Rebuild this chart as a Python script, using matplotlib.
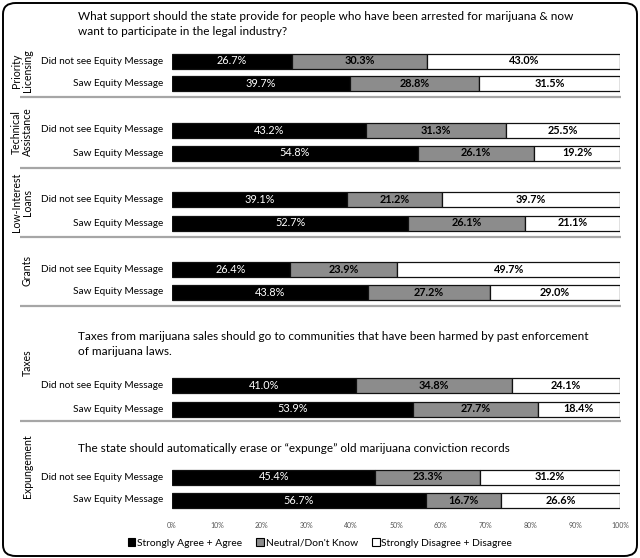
import matplotlib
matplotlib.use("Agg")
import matplotlib.pyplot as plt
from matplotlib.patches import Patch, FancyBboxPatch

plt.rcParams['font.family'] = ['Lato', 'DejaVu Sans']

# ---------------- data ----------------
groups = ["Priority\nLicensing", "Technical\nAssistance", "Low-Interest\nLoans",
          "Grants", "Taxes", "Expungement"]
row_labels = ["Did not see Equity Message", "Saw Equity Message"]
agree_no = [26.7, 43.2, 39.1, 26.4, 41.0, 45.4]
neutral_no = [30.3, 31.3, 21.2, 23.9, 34.8, 23.3]
disagree_no = [43.0, 25.5, 39.7, 49.7, 24.1, 31.2]
agree_saw = [39.7, 54.8, 52.7, 43.8, 53.9, 56.7]
neutral_saw = [28.8, 26.1, 26.1, 27.2, 27.7, 16.7]
disagree_saw = [31.5, 19.2, 21.1, 29.0, 18.4, 26.6]
series_names = ["Strongly Agree + Agree", "Neutral/Don't Know", "Strongly Disagree + Disagree"]
ticks = list(range(0, 101, 10))
titles = [
    ("What support should the state provide for people who have been arrested for marijuana & now\nwant to participate in the legal industry?", 24),
    ("Taxes from marijuana sales should go to communities that have been harmed by past enforcement\nof marijuana laws.", 344),
    ("The state should automatically erase or \u201cexpunge\u201d old marijuana conviction records", 448),
]

# ---------------- layout (pixel positions) ----------------
W, H = 640, 558
X0, X1 = 172, 620
AXB = 512
row_y = [(61, 83.5), (130, 153), (199.5, 223), (269.5, 292), (385.5, 409), (477, 500)]
group_y = [71, 132, 202, 270, 363, 466]
sep_y = [97, 167.5, 236.5, 305.5, 421]
BAR_H = 15
colors = ["black", "#8c8c8c", "white"]

fig = plt.figure(figsize=(W / 100, H / 100), dpi=100)
ax = fig.add_axes([X0 / W, 1 - AXB / H, (X1 - X0) / W, AXB / H])
ax.set_xlim(0, 100)
ax.set_ylim(AXB, 0)


def px(xpix):
    return (xpix - X0) / (X1 - X0) * 100


for i in range(len(groups)):
    rows = [(agree_no[i], neutral_no[i], disagree_no[i]),
            (agree_saw[i], neutral_saw[i], disagree_saw[i])]
    for (vals, yc, lab) in zip(rows, row_y[i], row_labels):
        left = 0
        for k, v in enumerate(vals):
            ax.barh(yc, v, left=left, height=BAR_H, color=colors[k],
                    edgecolor="#111111", linewidth=0.9)
            if k == 0:
                ax.text(left + v / 2, yc, f"{v:.1f}%", ha="center", va="center",
                        color="white", fontsize=7.8)
            else:
                ax.text(left + v / 2, yc, f"{v:.1f}%", ha="center", va="center",
                        color="black", fontsize=7.8, fontweight="bold")
            left += v
        ax.text(px(163), yc, lab, ha="right", va="center", fontsize=7.2, clip_on=False)
    ax.text(px(33), group_y[i], groups[i], rotation=90, ha="right", va="center",
            multialignment="center", fontsize=7.6, clip_on=False,
            linespacing=1.0)

for y in sep_y:
    ax.plot([px(20), 100.3], [y, y], color="#a6a6a6", lw=1.6, clip_on=False,
            solid_capstyle="butt")

for t, y in titles:
    ax.text(px(78), y, t, ha="left", va="center", fontsize=8.5, linespacing=1.45,
            clip_on=False)

ax.set_xticks(ticks)
ax.set_xticklabels([f"{t}%" for t in ticks], fontsize=5, color="#555555")
ax.tick_params(axis="x", length=0, pad=7)
ax.set_yticks([])
for s in ax.spines.values():
    s.set_visible(False)

handles = [Patch(facecolor=c, edgecolor="black", linewidth=0.8) for c in colors]
fig.legend(handles, series_names, loc="center", bbox_to_anchor=(0.5, 1 - 543 / H),
           ncol=3, frameon=False, fontsize=7.4, handlelength=0.75, handleheight=0.75,
           handletextpad=0.15, columnspacing=1.4)

border = FancyBboxPatch((3 / W, 2 / H), 634 / W, 553 / H,
                        boxstyle="round,pad=0,rounding_size=0.02",
                        transform=fig.transFigure, fill=False, lw=1.4,
                        edgecolor="black")
fig.add_artist(border)

fig.savefig("out.png", dpi=100)
